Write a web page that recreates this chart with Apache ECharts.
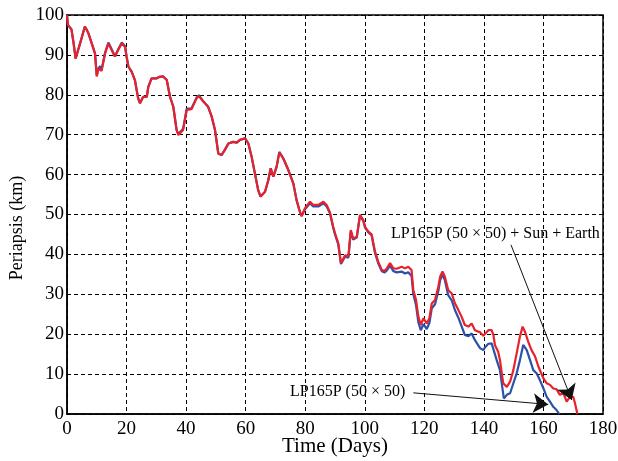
<!DOCTYPE html>
<html><head><meta charset="utf-8">
<script src="https://cdn.jsdelivr.net/npm/echarts@6/dist/echarts.min.js"></script>
<style>html,body{margin:0;padding:0;background:#fff}#c{width:618px;height:461px}</style>
</head><body><div id="c"></div>
<script>
const xTicks = [0,20,40,60,80,100,120,140,160,180];
const yTicks = [0,10,20,30,40,50,60,70,80,90,100];
const redDays = [0,0.3,1.5,2.2,2.9,3.5,4.4,5.2,6,6.5,7.2,8.3,9.4,10,10.5,11.1,11.6,12.2,12.8,13.9,15,15.5,16.1,17.2,18.4,19.5,20,20.6,21.7,22.8,23.9,24.5,25.6,26.8,27.3,28.4,30,31.1,32.3,33.5,34.6,35.7,36.8,37.4,39,40.2,41.8,43.5,44.3,45.8,47.4,48.6,49.7,50.8,51.9,53,54.2,55.8,57,58.1,59.8,60.9,62,63.1,64.2,65,66.5,67.6,68.4,69.3,70.4,71.3,72.6,74.3,76,77.1,78.2,78.8,79.9,81.6,82.7,84.4,86.1,87.2,88.3,89.4,90,91.1,92,93.4,94.5,95.3,96.1,97.3,98.4,99.5,100.1,101.2,102.3,103.4,104.5,105.7,106.7,107.4,108.5,109.6,110.7,112.4,113.5,114.6,115.7,116.3,117.2,118,118.8,119.7,120.8,121.7,122.5,123.6,124.7,125.3,126.1,126.9,128,129.2,130.3,131.4,132.5,133.6,134.8,135.9,137,138.7,139.8,140.5,141.5,142.6,143.2,143.7,144.8,145.4,146,146.5,147.7,148.8,149.9,151,152.1,153,153.8,154.9,156,157.2,158.3,160,161.1,162.2,163.3,164.4,165.5,166.7,167.8,168.9,170,170.6,171.4];
const redPeri = [100,97.5,96.4,93,89.1,89.5,92.9,95,97.1,96.5,95.4,92.9,90.4,84.6,86.5,87,86,85.8,90.4,92.9,91.2,91.6,89.6,91.2,92.9,92,89.6,87.1,85.8,83.7,79.1,77.9,79.5,79.5,82,84.1,84.1,84.5,84.6,83.7,79.5,77,71.2,69.9,71.2,76.2,76.4,79.1,79.7,78.3,77,74.5,71.2,65.3,64.9,66.2,67.8,68.2,68,68.7,69.1,67.8,64.5,60.3,56.1,54.5,55.7,58.6,61.6,59.5,62,65.5,64.1,61.2,57.8,53.6,50.7,49.6,51.5,53.2,52.4,52.4,53.2,52.4,50.5,46.9,45.3,42.8,37.8,39.8,39.5,46.1,44,44.4,49.9,48.6,46.9,45.7,45,40.8,38.2,36.1,35.9,36.5,37.8,36.5,36.4,36.9,36.5,36.9,36.1,31.1,28.6,24.4,22.3,24,22.7,24,27.7,28.6,31.9,34.4,35.7,34.4,31.1,30.2,27.7,26.1,24.4,22.3,21.9,22.7,21,20.5,19.6,20.2,21,21,19.8,17.3,15.6,13.5,10.2,7.7,6.8,8.1,11,15.2,19.4,21.9,20.6,18.1,16,14.4,11.9,8.9,7.7,7.3,6.4,6.2,4.8,5.2,3.1,4.3,4.3,2.7,0];
const blueDays = [0,0.3,1.5,2.2,2.9,3.5,4.4,5.2,6,6.5,7.2,8.3,9.4,10,10.5,11.1,11.6,12.2,12.8,13.9,15,15.5,16.1,17.2,18.4,19.5,20,20.6,21.7,22.8,23.9,24.5,25.6,26.8,27.3,28.4,30,31.1,32.3,33.5,34.6,35.7,36.8,37.4,39,40.2,41.8,43.5,44.3,45.8,47.4,48.6,49.7,50.8,51.9,53,54.2,55.8,57,58.1,59.8,60.9,62,63.1,64.2,65,66.5,67.6,68.4,69.3,70.4,71.3,72.6,74.3,76,77.1,78.2,78.8,79.9,81.6,82.7,84.4,86.1,87.2,88.3,89.4,90,91.1,92,93.4,94.5,95.3,96.1,97.3,98.4,99.5,100.1,101.2,102.3,103.4,104.5,105.7,106.7,107.4,108.5,109.6,110.7,112.4,113.5,114.6,115.7,116.3,117.2,118,118.8,119.7,120.8,121.7,122.5,123.6,124.7,125.3,126.1,126.9,128,129.2,130.3,131.4,132.5,133.6,134.8,135.9,137,138.7,139.8,140.5,141.5,142.6,143.2,144.3,145.4,146,146.7,147.7,148.8,149.9,151,152.1,153.2,154.4,155.5,156.6,157.7,158.8,160,161.1,162.2,163.3,164.4,165.3];
const bluePeri = [100,97.5,96.4,93,89.1,89.5,92.9,95,97.1,96.5,95.4,92.9,90.4,84.8,86.5,87.2,86.2,86,90.6,93.1,91.4,91.8,89.6,91.4,93.1,92.2,89.6,87.1,85.8,83.7,79.1,77.9,79.5,79.5,82,84.1,84.1,84.5,84.6,83.7,79.5,77,71.2,70.2,71.5,76.5,76.6,79.3,79.9,78.3,77,74.5,71.2,65.3,64.9,66.2,67.8,68.2,68,68.7,69.1,67.8,64.5,60.3,56.1,54.5,55.7,58.6,61.6,59.5,62,65.7,64.1,61.2,57.8,53.6,50.7,49.6,51.3,52.8,52,52,52.8,52,50.3,46.7,45,42.5,37.6,39.5,39.2,45.8,43.7,44.2,49.7,48.4,46.7,45.5,44.8,40.5,37.8,35.8,35.5,36,37.2,35.8,35.5,35.7,35.2,35.5,34.6,30,27.3,23,21,22.5,21.3,22.8,26.5,27.5,30.8,33.5,35,33.5,29.8,28.5,26,24.2,22,19.8,19.5,20.2,18.5,16.5,16,16.8,17.6,17.7,17.5,13.5,11,7.7,3.9,4.8,5.2,7.7,10.2,13.5,17.3,16,13.5,11,10.2,8.5,6.4,4.3,3.1,1.8,1,0];

const serif = '"Liberation Serif", "DejaVu Serif", serif';
const chart = echarts.init(document.getElementById('c'), null, {renderer:'canvas'});
const zip = (a,b)=>a.map((d,i)=>[d,b[i]]);
chart.setOption({
  animation:false,
  backgroundColor:'#fff',
  grid:{left:67,right:15,top:15,bottom:47,outerBoundsMode:'none',containLabel:false,show:true,borderColor:'#000',borderWidth:1.5,backgroundColor:'transparent'},
  xAxis:{type:'value',min:xTicks[0],max:xTicks[xTicks.length-1],interval:20,
    name:'Time (Days)',nameLocation:'middle',nameGap:22,nameMoveOverlap:false,
    nameTextStyle:{fontFamily:serif,fontSize:21,color:'#000'},
    axisLine:{lineStyle:{color:'#000',width:1.5}},axisTick:{show:false},
    axisLabel:{fontFamily:serif,fontSize:19,color:'#000',margin:6},
    splitLine:{show:true,lineStyle:{color:'#000',type:[4,3],width:1}}},
  yAxis:{type:'value',min:yTicks[0],max:yTicks[yTicks.length-1],interval:10,
    axisLine:{lineStyle:{color:'#000',width:1.5}},axisTick:{show:false},
    axisLabel:{fontFamily:serif,fontSize:19,color:'#000',margin:3},
    splitLine:{show:true,lineStyle:{color:'#000',type:[4,3],width:1}}},
  series:[
    {type:'line',data:zip(blueDays,bluePeri),showSymbol:false,lineStyle:{color:'#2b52a8',width:2.2},z:2,
     markLine:{silent:true,symbol:['none','arrow'],symbolSize:15,label:{show:false},
       lineStyle:{color:'#111',width:1,type:'solid'},
       data:[[{coord:[116.3,5.3]},{coord:[161.6,2.4]}]]}},
    {type:'line',data:zip(redDays,redPeri),showSymbol:false,lineStyle:{color:'#e8212b',width:2.2},z:3,
     markLine:{silent:true,symbol:['none','arrow'],symbolSize:15,label:{show:false},
       lineStyle:{color:'#111',width:1,type:'solid'},
       data:[[{coord:[149.1,42.4]},{coord:[169.5,3.5]}]]}}
  ],
  graphic:[
    {type:'text',x:17,y:228,rotation:Math.PI/2,z:10,style:{text:'Periapsis (km)',font:'18px '+serif,fill:'#000',align:'center',verticalAlign:'middle'}},
    {type:'text',left:391,top:226,z:10,style:{text:'LP165P (50 × 50) + Sun + Earth',font:'16px '+serif,fill:'#000'}},
    {type:'text',left:290,top:384,z:10,style:{text:'LP165P (50 × 50)',font:'16px '+serif,fill:'#000'}}
  ]
});
</script></body></html>
